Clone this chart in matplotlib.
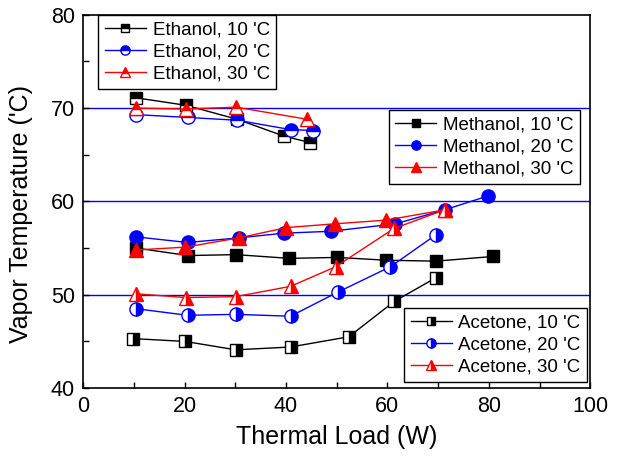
import matplotlib
matplotlib.use('Agg')
import matplotlib.pyplot as plt

plt.rcParams['font.family'] = ['Liberation Sans', 'DejaVu Sans']

# Ethanol
eth_x10 = [10.5, 20.3, 30.4, 39.6, 44.8]
eth_y10 = [71.1, 70.3, 68.8, 67.0, 66.3]
eth_x20 = [10.5, 20.6, 30.4, 40.9, 45.4]
eth_y20 = [69.3, 69.0, 68.7, 67.7, 67.6]
eth_x30 = [10.5, 20.2, 30.2, 44.2]
eth_y30 = [70.0, 69.9, 70.1, 68.8]

# Methanol
met_x10 = [10.5, 20.7, 30.1, 40.7, 50.1, 59.8, 69.5, 80.8]
met_y10 = [55.0, 54.2, 54.3, 53.9, 54.0, 53.7, 53.6, 54.1]
met_x20 = [10.5, 20.6, 30.8, 39.6, 48.8, 61.6, 71.3, 79.9]
met_y20 = [56.2, 55.6, 56.1, 56.6, 56.8, 57.6, 59.1, 60.6]
met_x30 = [10.5, 20.1, 30.8, 40.1, 49.6, 59.8, 71.3]
met_y30 = [54.8, 55.1, 56.1, 57.2, 57.6, 58.0, 59.1]

# Acetone
ace_x10 = [9.9, 20.1, 30.1, 40.9, 52.4, 61.4, 69.5]
ace_y10 = [45.3, 45.0, 44.1, 44.4, 45.5, 49.3, 51.8]
ace_x20 = [10.5, 20.6, 30.1, 40.9, 50.3, 60.6, 69.5]
ace_y20 = [48.5, 47.8, 47.9, 47.7, 50.3, 53.0, 56.4]
ace_x30 = [10.5, 20.3, 30.1, 40.9, 49.8, 61.3, 71.3]
ace_y30 = [50.1, 49.7, 49.8, 50.9, 53.0, 57.1, 59.1]

ref_lines = [50, 60, 70]

fig = plt.figure(figsize=(6.2, 4.62), dpi=100)
ax = fig.add_axes([0.134, 0.160, 0.818, 0.808])

for y in ref_lines:
    ax.axhline(y, color='blue', lw=1, zorder=1)

def serie(x, y, color, marker, fill, label, ms):
    return ax.plot(x, y, color=color, lw=1, marker=marker, ms=ms,
                   fillstyle=fill, markerfacecolor=color,
                   markerfacecoloralt='white', markeredgecolor=color,
                   markeredgewidth=1, label=label, zorder=3)[0]

e1 = serie(eth_x10, eth_y10, 'black', 's', 'top', "Ethanol, 10 'C", 8.5)
e2 = serie(eth_x20, eth_y20, 'blue', 'o', 'top', "Ethanol, 20 'C", 9.5)
e3 = serie(eth_x30, eth_y30, 'red', '^', 'top', "Ethanol, 30 'C", 10)
m1 = serie(met_x10, met_y10, 'black', 's', 'full', "Methanol, 10 'C", 8.5)
m2 = serie(met_x20, met_y20, 'blue', 'o', 'full', "Methanol, 20 'C", 9.5)
m3 = serie(met_x30, met_y30, 'red', '^', 'full', "Methanol, 30 'C", 10)
a1 = serie(ace_x10, ace_y10, 'black', 's', 'right', "Acetone, 10 'C", 8.5)
a2 = serie(ace_x20, ace_y20, 'blue', 'o', 'right', "Acetone, 20 'C", 9.5)
a3 = serie(ace_x30, ace_y30, 'red', '^', 'right', "Acetone, 30 'C", 10)

ax.set_xlim(0, 100)
ax.set_ylim(40, 80)
ax.set_xticks([0, 20, 40, 60, 80, 100])
ax.set_xticks([10, 30, 50, 70, 90], minor=True)
ax.set_yticks([40, 50, 60, 70, 80])
ax.set_yticks([45, 55, 65, 75], minor=True)
ax.tick_params(which='both', direction='in', length=4, width=1,
               labelsize=15.5, pad=6)
for s in ax.spines.values():
    s.set_linewidth(1.2)
ax.set_xlabel('Thermal Load (W)', fontsize=18)
ax.set_ylabel("Vapor Temperature ('C)", fontsize=18)
ax.xaxis.set_label_coords(0.5, -0.10)
ax.yaxis.set_label_coords(-0.099, 0.466)

kw = dict(fontsize=13.5, frameon=True, fancybox=False, edgecolor='black',
          framealpha=1, borderaxespad=0, handlelength=2.2, numpoints=1,
          labelspacing=0.25, borderpad=0.35, handletextpad=0.35,
          markerscale=0.7)
leg1 = ax.legend(handles=[e1, e2, e3], loc='upper left', bbox_to_anchor=(0.03, 1.0), **kw)
leg1.get_frame().set_linewidth(1)
ax.add_artist(leg1)
leg2 = ax.legend(handles=[m1, m2, m3], loc='upper right', bbox_to_anchor=(0.98, 0.745), **kw)
leg2.get_frame().set_linewidth(1)
ax.add_artist(leg2)
leg3 = ax.legend(handles=[a1, a2, a3], loc='lower right', bbox_to_anchor=(0.994, 0.016), **kw)
leg3.get_frame().set_linewidth(1)

fig.savefig('out.png', dpi=100)
